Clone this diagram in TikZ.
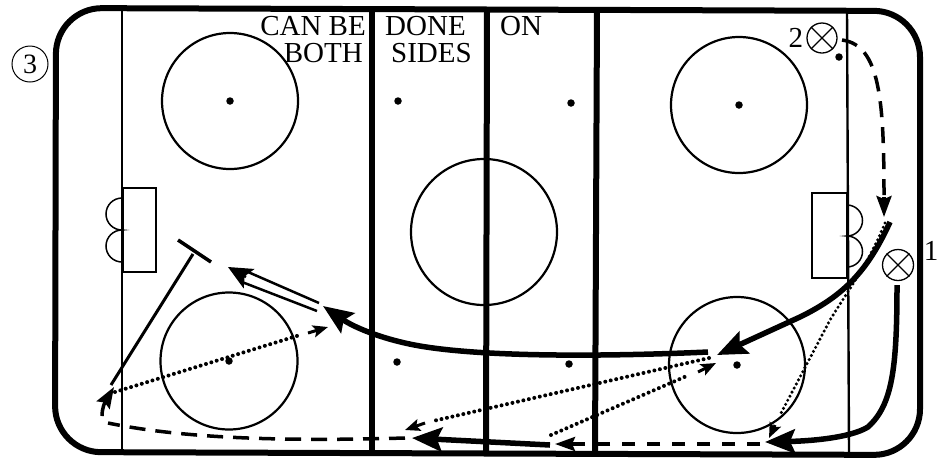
\documentclass[tikz,border=0pt]{standalone}
\usepackage{fontspec}
\setmainfont{Liberation Serif}
\usetikzlibrary{positioning,arrows.meta}

\begin{document}
\begin{tikzpicture}[
  x=1pt, y=-1pt,
  faceoff/.style={draw, line width=2.2pt},
  spot/.style={circle, fill=black, inner sep=0pt, minimum size=7.5pt},
  player/.style={circle, draw, line width=1.3pt, minimum size=30pt, inner sep=0pt},
  rinkline/.style={line width=6pt},
  thinline/.style={line width=2.4pt},
  goalbox/.style={draw, line width=1.1pt},
  caption/.style={font=\fontsize{29}{29}\selectfont, inner sep=0pt},
  skate/.style={line width=5.5pt, -{Stealth[length=30pt, width=24pt, inset=5pt]}},
  skatesmall/.style={line width=2.5pt, -{Stealth[length=24pt, width=22pt, inset=5pt]}},
  backward/.style={line width=3.5pt, dash pattern=on 16pt off 10pt},
  backwardtip/.style={line width=3.5pt, -{Stealth[length=21pt, width=15pt, inset=3pt]}},
  backwardthick/.style={line width=4.5pt, dash pattern=on 13pt off 12pt},
  pass/.style={line width=4pt, line cap=round, dash pattern=on 0pt off 5.6pt},
  passthin/.style={line width=3.4pt, line cap=round, dash pattern=on 0pt off 4.6pt},
  passend/.style={line width=3pt, -{Stealth[length=15pt, width=12pt, inset=3pt]}},
]
  \useasboundingbox (0,0) rectangle (944,459);

  % Ice
  \draw[faceoff] (484,232) circle (73);
  \draw[rinkline, rounded corners=46pt] (56,8) -- (920,11) -- (920,455) -- (55,452) -- cycle;
  \draw[thinline] (122,9) -- (122,452);
  \draw[thinline] (847,11) -- (849,454);
  \draw[rinkline] (372,9) -- (372,452);
  \draw[rinkline] (487,9) -- (486,453);
  \draw[rinkline] (597,10) -- (595,454);

  % Face-off circles
  \draw[faceoff] (230,101) circle (68);
  \draw[faceoff] (739,105) circle (68);
  \draw[faceoff] (229,361) circle (68.5);
  \draw[faceoff] (737,365) circle (68);
  \foreach \px/\py in {230/101, 398/101, 571/103, 739/105, 839/57, 229/361, 397/362, 569/364, 737/365}
    \node[spot] at (\px,\py) {};

  % Goals
  \draw[goalbox] (123,188) rectangle (156,272);
  \draw[goalbox] (812,193) rectangle (847,278);
  \draw[line width=1.5pt] (122,198) arc (-90:-270:16) arc (-90:-270:16);
  \draw[line width=1.5pt] (847,205) arc (-90:90:15.5) arc (-90:90:15.5);

  % Text
  \node[caption, anchor=east] (can) at (366,26) {CAN BE};
  \node[caption, anchor=east] (both) at (363,53) {BOTH};
  \node[caption, anchor=west] (done) at (385,26) {DONE};
  \node[caption, anchor=west] (sides) at (391,53) {SIDES};
  \node[caption, anchor=west] (on) at (500,26) {ON};

  % Players
  \node[player] (p2) at (822,38) {};
  \node[player, minimum size=31pt] (p1) at (898,265) {};
  \draw[line width=1.3pt] (p2.45) -- (p2.225) (p2.135) -- (p2.-45);
  \draw[line width=1.3pt] (p1.45) -- (p1.225) (p1.135) -- (p1.-45);
  \node[caption, left=3pt of p2] (two) {2};
  \node[caption, anchor=center] (one) at (931,251) {1};
  \node[circle, draw, line width=1pt, minimum size=36pt, inner sep=0pt,
        font=\fontsize{28}{28}\selectfont] (p3) at (30,64) {3};

  % Route points
  \coordinate (a1) at (842,40);
  \coordinate (a2) at (884,197);
  \coordinate (a3) at (884,217);
  \coordinate (b1) at (890,222);
  \coordinate (b2) at (717,355);
  \coordinate (c1) at (708,352);
  \coordinate (c2) at (323,306);
  \coordinate (d2) at (228,267);
  \coordinate (e1) at (193,254);
  \coordinate (e2) at (111,385);
  \coordinate (t1) at (178,240);
  \coordinate (t2) at (211,262);
  \coordinate (g1) at (405,438);
  \coordinate (g2) at (108,423);
  \coordinate (g3) at (102,416);
  \coordinate (g4) at (114,387);
  \coordinate (h1) at (550,445);
  \coordinate (h2) at (412,438);
  \coordinate (i1) at (760,444);
  \coordinate (i2) at (575,444);
  \coordinate (i3) at (555,444);
  \coordinate (j1) at (897,285);
  \coordinate (j2) at (765,442);

  % Skaters
  \draw[backward] (a1) .. controls (880,45) and (884,100) .. (a2);
  \draw[backwardtip] (a2) -- (a3);
  \draw[skate] (b1) .. controls (868,270) and (845,295) .. (800,317) -- (b2);
  \draw[skate] (c1) .. controls (620,356) and (490,358) .. (420,346)
    .. controls (385,340) and (355,328) .. (c2);
  \draw[line width=2.5pt] (319,303) -- (248,272);
  \draw[line width=2.5pt] (317,311) -- (242,282);
  \draw[skatesmall] (246,277) -- (d2);
  \draw[line width=3.5pt] (t1) -- (t2);
  \draw[line width=3pt] (e1) -- (e2);
  \draw[backward] (g1) .. controls (300,441) and (190,440) .. (g2);
  \draw[backwardtip] (g3) .. controls (102,408) and (105,402) .. (g4);
  \draw[skate] (h1) -- (h2);
  \draw[backwardthick] (i1) -- (i2);
  \draw[passend, line width=3.5pt, -{Stealth[length=20pt, width=14pt, inset=3pt]}] (i2) -- (i3);
  \draw[skate] (j1) .. controls (897,370) and (892,405) .. (868,427)
    .. controls (850,438) and (810,441) .. (j2);

  % Passes
  \draw[pass] (115,392) -- (300,335);
  \draw[passend] (308,333) -- (328,327);
  \draw[pass] (709,358) -- (433,421);
  \draw[passend] (425,423) -- (405,430);
  \draw[pass] (551,435) -- (689,375);
  \draw[passend] (698,372) -- (716,363);
  \draw[passthin] (885,223) .. controls (868,265) and (845,295) .. (830,320) -- (780,415);
  \draw[passend] (775,425) -- (769,438);
\end{tikzpicture}
\end{document}
